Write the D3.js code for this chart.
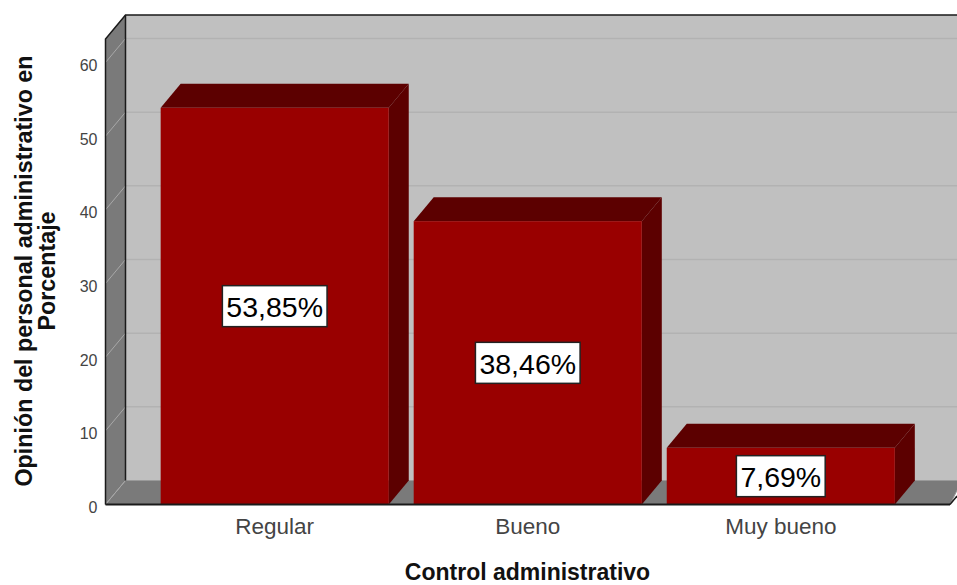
<!DOCTYPE html>
<html>
<head>
<meta charset="utf-8">
<script src="https://cdn.jsdelivr.net/npm/d3@7"></script>
<style>
  html, body { margin: 0; padding: 0; background: #fff; }
  svg { display: block; }
  text { font-family: "Liberation Sans", Arial, sans-serif; }
</style>
</head>
<body>
<script>
const categories = ["Regular", "Bueno", "Muy bueno"];
const values = [53.85, 38.46, 7.69];
const valueLabels = ["53,85%", "38,46%", "7,69%"];
const yTicks = [0, 10, 20, 30, 40, 50, 60];

const width = 957, height = 585;
const depthX = 20, depthY = 24;
const left = 105.5, right = 950;

const svg = d3.select("body").append("svg")
    .attr("width", width)
    .attr("height", height);

const x = d3.scaleBand()
    .domain(categories)
    .range([left, right])
    .paddingInner(0.0986)
    .paddingOuter(0.218);

const y = d3.scaleLinear()
    .domain([0, 60])
    .range([504.5, 62.5]);

const yTop = 39;

// back wall
svg.append("rect")
    .attr("x", left + depthX)
    .attr("y", yTop - depthY)
    .attr("width", width - left - depthX + 5)
    .attr("height", y(0) - yTop)
    .attr("fill", "#c0c0c0");

// left wall
svg.append("path")
    .attr("d", `M${left},${yTop}L${left + depthX},${yTop - depthY}V${y(0) - depthY}L${left},${y(0)}Z`)
    .attr("fill", "#7a7a7a");

// floor
svg.append("path")
    .attr("d", `M${left},${y(0)}L${left + depthX},${y(0) - depthY}H${width + 5}V${y(0) - depthY}L${right},${y(0)}Z`)
    .attr("fill", "#7a7a7a")
    .attr("stroke", "#9a9a9a")
    .attr("stroke-width", 1);

// gridlines along both walls
yTicks.forEach(t => {
    if (t > 0) {
        svg.append("line")
            .attr("x1", left + depthX).attr("x2", width)
            .attr("y1", y(t) - depthY).attr("y2", y(t) - depthY)
            .attr("stroke", "#b2b2b2").attr("stroke-width", 1.5);
    }
    svg.append("line")
        .attr("x1", left).attr("x2", left + depthX)
        .attr("y1", y(t)).attr("y2", y(t) - depthY)
        .attr("stroke", "#a8a8a8").attr("stroke-width", 1);
});

// wall edges
svg.append("path")
    .attr("d", `M${left},${y(0)}V${yTop}L${left + depthX},${yTop - depthY}H${width}`)
    .attr("fill", "none").attr("stroke", "#1a1a1a").attr("stroke-width", 1.5);
svg.append("line")
    .attr("x1", left + depthX).attr("x2", left + depthX)
    .attr("y1", yTop - depthY).attr("y2", y(0) - depthY)
    .attr("stroke", "#1a1a1a").attr("stroke-width", 1.5);

// bars
const bars = svg.append("g")
    .selectAll("g")
    .data(categories)
    .join("g");

const barH = (d, i) => y(values[i]);

bars.append("path")
    .attr("d", (d, i) => {
        const l = x(d), r = x(d) + x.bandwidth(), t = barH(d, i);
        return `M${l},${t}L${l + depthX},${t - depthY}H${r + depthX}L${r},${t}Z`;
    })
    .attr("fill", "#5c0000");

bars.append("path")
    .attr("d", (d, i) => {
        const r = x(d) + x.bandwidth(), t = barH(d, i);
        return `M${r},${t}L${r + depthX},${t - depthY}V${y(0) - depthY}L${r},${y(0)}Z`;
    })
    .attr("fill", "#5c0000");

bars.append("rect")
    .attr("x", d => x(d))
    .attr("y", barH)
    .attr("width", x.bandwidth())
    .attr("height", (d, i) => y(0) - barH(d, i))
    .attr("fill", "#990000");

// baseline
svg.append("line")
    .attr("x1", left).attr("x2", right)
    .attr("y1", y(0)).attr("y2", y(0))
    .attr("stroke", "#1a1a1a").attr("stroke-width", 2);
svg.append("line")
    .attr("x1", right).attr("x2", width)
    .attr("y1", y(0)).attr("y2", y(0) - (width - right) * depthY / depthX)
    .attr("stroke", "#1a1a1a").attr("stroke-width", 1.5);

// value labels
bars.each(function(d, i) {
    const g = d3.select(this);
    const cx = x(d) + x.bandwidth() / 2;
    const cy = (y(0) + y(values[i])) / 2;
    const label = g.append("text")
        .attr("x", cx)
        .attr("y", cy + 1)
        .attr("text-anchor", "middle")
        .attr("dominant-baseline", "central")
        .style("font-size", "28.5px")
        .attr("fill", "#000")
        .text(valueLabels[i]);
    const w = label.node().getBoundingClientRect().width;
    g.insert("rect", "text")
        .attr("x", cx - w / 2 - 4)
        .attr("y", cy - 20.5)
        .attr("width", w + 8)
        .attr("height", 41)
        .attr("fill", "#fff")
        .attr("stroke", "#222")
        .attr("stroke-width", 1.5);
});

// y axis labels
svg.append("g")
    .attr("transform", `translate(${left},3)`)
    .call(d3.axisLeft(y).tickValues(yTicks).tickSize(0).tickPadding(8))
    .call(g => g.select(".domain").remove())
    .selectAll("text")
    .style("font-family", '"Liberation Sans", Arial, sans-serif')
    .style("font-size", "16px")
    .attr("fill", "#444");

// x axis labels
svg.append("g")
    .attr("transform", `translate(0,${y(0)})`)
    .call(d3.axisBottom(x).tickSize(0).tickPadding(14))
    .call(g => g.select(".domain").remove())
    .selectAll("text")
    .style("font-family", '"Liberation Sans", Arial, sans-serif')
    .style("font-size", "22.5px")
    .attr("fill", "#444");

// axis titles
svg.append("text")
    .attr("x", 527.5)
    .attr("y", 580)
    .attr("text-anchor", "middle")
    .style("font-size", "23px")
    .style("font-weight", "bold")
    .attr("fill", "#111")
    .text("Control administrativo");

const yTitle = svg.append("text")
    .attr("transform", "translate(31.5,271) rotate(-90)")
    .attr("text-anchor", "middle")
    .style("font-size", "23.3px")
    .style("font-weight", "bold")
    .attr("fill", "#111");
yTitle.append("tspan").attr("x", 0).attr("dy", 0).text("Opinión del personal administrativo en");
yTitle.append("tspan").attr("x", 0).attr("dy", 23.5).text("Porcentaje");
</script>
</body>
</html>
